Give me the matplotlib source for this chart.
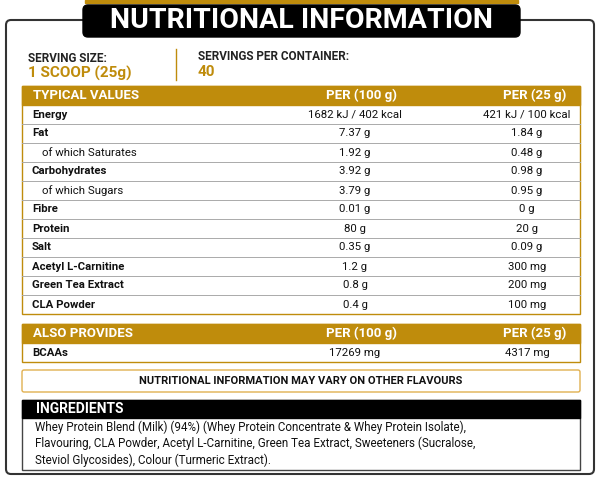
import matplotlib
matplotlib.use("Agg")
import matplotlib.pyplot as plt
from matplotlib.patches import FancyBboxPatch, Rectangle

nutrients = ["Energy", "Fat", "of which Saturates", "Carbohydrates", "of which Sugars", "Fibre",
             "Protein", "Salt", "Acetyl L-Carnitine", "Green Tea Extract", "CLA Powder"]
per100 = ["1682 kJ / 402 kcal", "7.37 g", "1.92 g", "3.92 g", "3.79 g", "0.01 g", "80 g",
          "0.35 g", "1.2 g", "0.8 g", "0.4 g"]
per25 = ["421 kJ / 100 kcal", "1.84 g", "0.48 g", "0.98 g", "0.95 g", "0 g", "20 g",
         "0.09 g", "300 mg", "200 mg", "100 mg"]
extra_names = ["BCAAs"]
extra100 = ["17269 mg"]
extra25 = ["4317 mg"]
ingredients = ["Whey Protein Blend (Milk) (94%) (Whey Protein Concentrate & Whey Protein Isolate),",
               "Flavouring, CLA Powder, Acetyl L-Carnitine, Green Tea Extract, Sweeteners (Sucralose,",
               "Steviol Glycosides), Colour (Turmeric Extract)."]

GOLD = "#BF8C0C"
plt.rcParams['font.family'] = ['Roboto', 'DejaVu Sans']
fig = plt.figure(figsize=(6, 4.8), dpi=100)
ax = fig.add_axes([0, 0, 1, 1])
ax.set_xlim(0, 600); ax.set_ylim(480, 0); ax.axis("off")

ax.add_patch(Rectangle((85, 0), 433, 3, color=GOLD))
ax.add_patch(FancyBboxPatch((6, 20), 588, 454, boxstyle="round,pad=0,rounding_size=5",
                            fc="white", ec="#333333", lw=1.5))
ax.add_patch(FancyBboxPatch((83, 5), 437, 32, boxstyle="round,pad=0,rounding_size=5",
                            fc="black", ec="black"))
ax.text(302, 21, "NUTRITIONAL INFORMATION", color="white", fontsize=20.5, fontweight="bold",
        ha="center", va="center")

ax.text(28, 58, "SERVING SIZE:", fontsize=8.5, fontweight="bold", va="center", color="#222")
ax.text(28, 73, "1 SCOOP (25g)", fontsize=11, fontweight="bold", va="center", color=GOLD)
ax.plot([176, 176], [49, 80], color=GOLD, lw=1)
ax.text(198, 56, "SERVINGS PER CONTAINER:", fontsize=8.5, fontweight="bold", va="center", color="#222")
ax.text(198, 72, "40", fontsize=11, fontweight="bold", va="center", color=GOLD)

X0, X1, C1, C2 = 22, 580, 355, 527
RH = 19

def table(top, title, names, v1, v2):
    ax.add_patch(Rectangle((X0, top), X1 - X0, RH, color=GOLD))
    ax.text(33, top + RH / 2, title, color="white", fontsize=9.5, fontweight="bold", va="center")
    ax.text(C1 + 6, top + RH / 2, "PER (100 g)", color="white", fontsize=9.5, fontweight="bold", va="center", ha="center")
    ax.text(C2 + 8, top + RH / 2, "PER (25 g)", color="white", fontsize=9.5, fontweight="bold", va="center", ha="center")
    for i, (n, a, b) in enumerate(zip(names, v1, v2)):
        y = top + RH * (i + 1.5)
        sub = n.startswith("of which")
        ax.text(42 if sub else 32, y, n, fontsize=8.2, va="center",
                fontweight="normal" if sub else "bold", color="#111")
        ax.text(C1, y, a, fontsize=8.2, va="center", ha="center", color="#111")
        ax.text(C2, y, b, fontsize=8.2, va="center", ha="center", color="#111")
        if i < len(names) - 1:
            ax.plot([X0, X1], [top + RH * (i + 2)] * 2, color="#aaaaaa", lw=0.7)
    bot = top + RH * (len(names) + 1)
    ax.add_patch(Rectangle((X0, top), X1 - X0, bot - top, fill=False, ec=GOLD, lw=1))

table(86, "TYPICAL VALUES", nutrients, per100, per25)
table(324, "ALSO PROVIDES", extra_names, extra100, extra25)

ax.add_patch(FancyBboxPatch((22, 370), 558, 22, boxstyle="round,pad=0,rounding_size=2",
                            fc="white", ec="#E0B050", lw=1))
ax.text(301, 381, "NUTRITIONAL INFORMATION MAY VARY ON OTHER FLAVOURS", fontsize=8,
        fontweight="bold", ha="center", va="center", color="#111")

ax.add_patch(Rectangle((22, 400), 558, 70, fc="white", ec="#444", lw=1))
ax.add_patch(Rectangle((22, 400), 558, 18, color="black"))
ax.text(36, 409, "INGREDIENTS", color="white", fontsize=10, fontweight="bold", va="center")
for i, line in enumerate(ingredients):
    ax.text(35, 427 + 16.5 * i, line, fontsize=8.4, va="center", color="#111")

fig.savefig("out.png", dpi=100)
